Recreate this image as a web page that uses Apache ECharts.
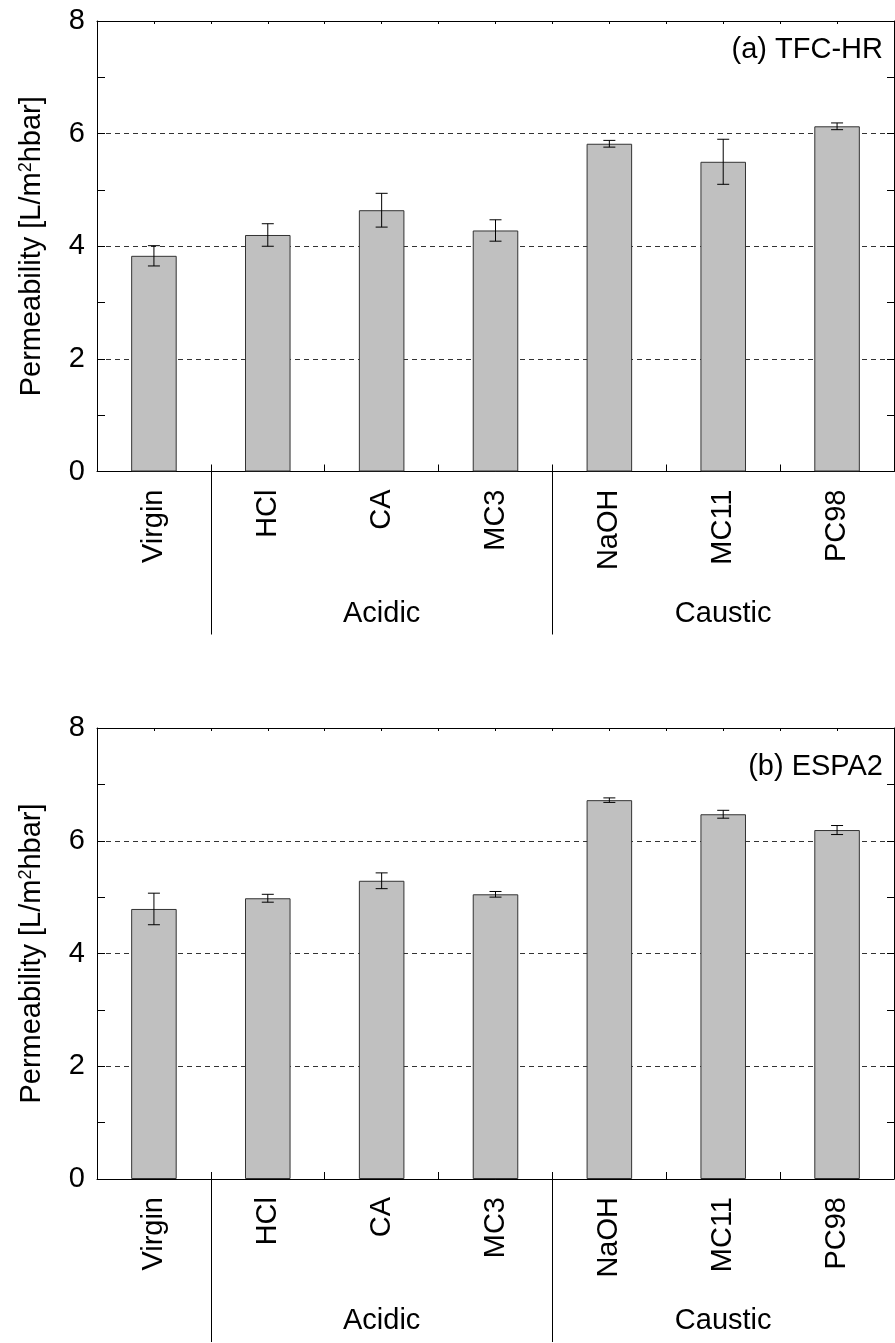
<!DOCTYPE html>
<html>
<head>
<meta charset="utf-8">
<script src="https://cdn.jsdelivr.net/npm/echarts@6/dist/echarts.min.js"></script>
<style>
html,body{margin:0;padding:0;background:#fff;}
#chart{width:895px;height:1343px;}
</style>
</head>
<body>
<div id="chart"></div>
<script>
// ---- data ----
const categories = ['Virgin', 'HCl', 'CA', 'MC3', 'NaOH', 'MC11', 'PC98'];
const valuesA = [3.83, 4.20, 4.64, 4.28, 5.82, 5.50, 6.13];
const errorsA = [0.18, 0.20, 0.30, 0.19, 0.06, 0.40, 0.06];
const valuesB = [4.79, 4.98, 5.29, 5.05, 6.72, 6.47, 6.19];
const errorsB = [0.28, 0.07, 0.14, 0.05, 0.04, 0.07, 0.08];
const yTickLabels = [0, 2, 4, 6, 8];
const groupNames = ['Acidic', 'Caustic'];
const groupCenters = [2, 5];          // category index under which each group label sits
const separatorsAfter = [0, 3];       // separator drawn after these category indices
const panelTitles = ['(a) TFC-HR', '(b) ESPA2'];
const yName = 'Permeability [L/m{sup|2}hbar]';

// ---- layout / style ----
const FONT = 'Liberation Sans, Arial, sans-serif';
const FS = 29;
const grids = [
  { left: 97, top: 21, width: 797, height: 450.5 },
  { left: 97, top: 728, width: 797, height: 451 }
];
const titleTops = [35, 752];

const chart = echarts.init(document.getElementById('chart'), null, { renderer: 'canvas' });

const xAxes = [], yAxes = [], series = [], titles = [];
const allValues = [valuesA, valuesB];
const allErrors = [errorsA, errorsB];

grids.forEach((g, gi) => {
  xAxes.push({
    type: 'category', gridIndex: gi, data: categories, position: 'bottom',
    boundaryGap: true,
    axisLine: { show: true, lineStyle: { color: '#000', width: 1 } },
    axisTick: { show: true, inside: true, length: 7, lineStyle: { color: '#000' } },
    axisLabel: { interval: 0, rotate: 90, margin: 18, color: '#000', fontFamily: FONT, fontSize: FS },
    splitLine: { show: false }
  });
  xAxes.push({
    type: 'value', gridIndex: gi, position: 'top', min: 0, max: 14, interval: 1,
    axisLine: { show: true, onZero: false, lineStyle: { color: '#000', width: 1 } },
    axisTick: { show: true, inside: true, length: 3, lineStyle: { color: '#000' } },
    axisLabel: { show: false }, splitLine: { show: false }
  });
  yAxes.push({
    type: 'value', gridIndex: gi, position: 'left', min: 0, max: 8, interval: 2,
    name: yName, nameLocation: 'middle', nameGap: 50,
    nameTextStyle: {
      color: '#000', fontFamily: FONT, fontSize: FS,
      rich: { sup: { fontSize: 18, fontFamily: FONT, color: '#000', verticalAlign: 'top', padding: [0, 0, 12, 0] } }
    },
    axisLine: { show: true, onZero: false, lineStyle: { color: '#000', width: 1 } },
    axisTick: { show: true, inside: true, length: 8, lineStyle: { color: '#000' } },
    minorTick: { show: true, splitNumber: 2, length: 8, lineStyle: { color: '#000' } },
    axisLabel: {
      margin: 12, color: '#000', fontFamily: FONT, fontSize: FS,
      formatter: v => (yTickLabels.indexOf(v) >= 0 ? String(v) : '')
    },
    splitLine: { show: true, lineStyle: { color: '#333', type: [5, 4], width: 1 } }
  });
  yAxes.push({
    type: 'value', gridIndex: gi, position: 'right', min: 0, max: 8, interval: 1,
    axisLine: { show: true, onZero: false, lineStyle: { color: '#000', width: 1 } },
    axisTick: { show: true, inside: true, length: 7, lineStyle: { color: '#000' } },
    axisLabel: { show: false }, splitLine: { show: false }
  });

  const xi = gi * 2, yi = gi * 2;
  const vals = allValues[gi], errs = allErrors[gi];

  series.push({
    type: 'bar', xAxisIndex: xi, yAxisIndex: yi, data: vals, barWidth: '40%',
    itemStyle: { color: '#c0c0c0', borderColor: '#333', borderWidth: 1 },
    z: 3, silent: true
  });

  series.push({
    type: 'custom', xAxisIndex: xi, yAxisIndex: yi, z: 5, silent: true,
    data: vals.map((v, i) => [i, v - errs[i], v + errs[i]]),
    renderItem: (params, api) => {
      const i = api.value(0);
      const lo = api.coord([i, api.value(1)]);
      const hi = api.coord([i, api.value(2)]);
      const cw = 6;
      const st = { stroke: '#000', lineWidth: 1 };
      return {
        type: 'group', children: [
          { type: 'line', shape: { x1: lo[0], y1: lo[1], x2: hi[0], y2: hi[1] }, style: st },
          { type: 'line', shape: { x1: hi[0] - cw, y1: hi[1], x2: hi[0] + cw, y2: hi[1] }, style: st },
          { type: 'line', shape: { x1: lo[0] - cw, y1: lo[1], x2: lo[0] + cw, y2: lo[1] }, style: st }
        ]
      };
    }
  });

  series.push({
    type: 'custom', xAxisIndex: xi, yAxisIndex: yi, z: 6, silent: true, clip: false,
    data: separatorsAfter.map(i => [i]),
    renderItem: (params, api) => {
      const c = api.coord([api.value(0), 0]);
      const bw = api.size([1, 0])[0];
      const x = Math.round(c[0] + bw / 2) + 0.5;
      return { type: 'line', shape: { x1: x, y1: c[1] - 6.5, x2: x, y2: c[1] + 163 },
               style: { stroke: '#000', lineWidth: 1 } };
    }
  });

  series.push({
    type: 'custom', xAxisIndex: xi, yAxisIndex: yi, z: 6, silent: true, clip: false,
    data: groupCenters.map((c, k) => [c, k]),
    renderItem: (params, api) => {
      const c = api.coord([api.value(0), 0]);
      return {
        type: 'text', x: c[0], y: c[1] + 142,
        style: {
          text: groupNames[api.value(1)], fill: '#000',
          font: FS + 'px ' + FONT, fontSize: FS, fontFamily: FONT,
          align: 'center', verticalAlign: 'middle',
          textAlign: 'center', textVerticalAlign: 'middle'
        }
      };
    }
  });

  titles.push({
    text: panelTitles[gi], right: 12, top: titleTops[gi], padding: 0,
    textStyle: { color: '#000', fontFamily: FONT, fontSize: FS, fontWeight: 'normal' }
  });
});

chart.setOption({
  animation: false,
  backgroundColor: '#fff',
  title: titles,
  grid: grids.map(g => Object.assign({ containLabel: false }, g)),
  xAxis: xAxes,
  yAxis: yAxes,
  series: series
});
</script>
</body>
</html>
